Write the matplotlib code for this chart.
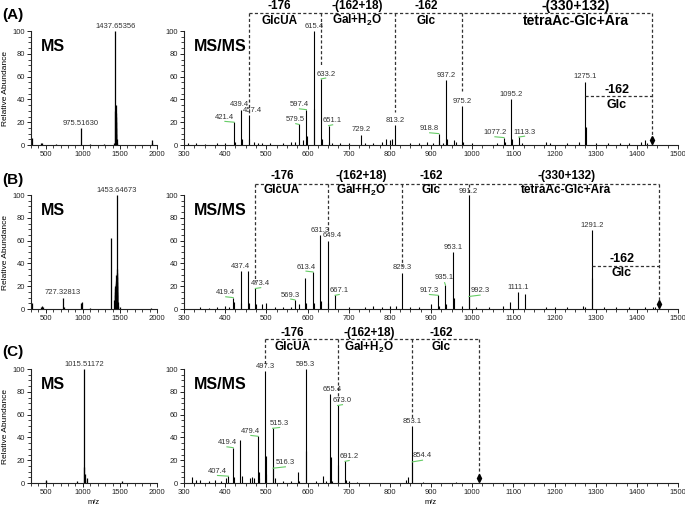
import matplotlib
matplotlib.use('Agg')
import matplotlib.pyplot as plt
from matplotlib.ticker import MultipleLocator

plt.rcParams['font.family'] = ['Liberation Sans', 'DejaVu Sans']
plt.rcParams['mathtext.fontset'] = 'custom'
plt.rcParams['mathtext.rm'] = 'Liberation Sans'
plt.rcParams['mathtext.bf'] = 'Liberation Sans:bold'

# ---------------- Daten ----------------
# (A) MS
msA_mz = [310, 440, 450, 640, 975.51630, 1100, 1280, 1420, 1437.65356, 1439, 1441, 1443, 1444, 1447,
          1448, 1451, 1456, 1462, 1930, 1936]
msA_int = [6, 2, 2, 1, 15, 1, 1, 2, 100, 30, 25, 28, 20, 35, 15, 10, 5, 2, 4, 2]
msA_lab = [1437.65356, 975.51630]

# (A) MS/MS
msmsA_mz = [310, 330, 350, 380, 400, 421.4, 423, 439.4, 441, 457.4, 459, 470, 480, 490, 510, 540, 560, 570,
            579.5, 590, 597.4, 599, 615.4, 617, 633.2, 635, 651.1, 653, 660, 680, 700, 729.2, 740, 760, 780,
            790, 800, 805, 813.2, 850, 870, 890, 905, 918.8, 920, 930, 937.2, 939, 955, 960, 975.2, 977,
            1000, 1060, 1077.2, 1080, 1095.2, 1097, 1113.3, 1120, 1180, 1190, 1230, 1260, 1275.1, 1276,
            1300, 1330, 1360, 1380, 1410, 1420, 1425]
msmsA_int = [2, 2, 1, 2, 2, 20, 3, 31, 5, 26, 5, 3, 2, 2, 2, 2, 3, 3,
             18, 4, 31, 8, 100, 32, 58, 5, 17, 3, 2, 2, 2, 9, 2, 2, 3,
             5, 4, 5, 17.5, 2, 1.5, 3, 2, 10, 4, 2, 57, 5, 4, 3, 34, 3,
             2, 2, 6.5, 3, 40, 5, 7, 2, 3, 2, 2, 3, 55.5, 16,
             2, 2, 2, 2, 3, 4, 2]
msmsA_lab = [421.4, 439.4, 457.4, 579.5, 597.4, 615.4, 633.2, 651.1, 729.2, 813.2,
             918.8, 937.2, 975.2, 1077.2, 1095.2, 1113.3, 1275.1]
msmsA_green = [421.4, 579.5, 597.4, 633.2, 651.1, 918.8, 1077.2, 1113.3]

# (B) MS
msB_mz = [310, 440, 450, 460, 727.32813, 750, 980, 985, 1100, 1385, 1420, 1430, 1435, 1437, 1440, 1442,
          1445, 1447, 1449, 1450, 1452, 1453.64673, 1455, 1457, 1458, 1460, 1462, 1464, 1466, 1470,
          1480, 1500, 1920]
msB_int = [5, 2, 3, 2, 10, 1.5, 5, 6, 1, 62, 8, 15, 18, 12, 20, 18,
           22, 21, 23, 25, 30, 100, 32, 28, 35, 20, 24, 15, 12, 6,
           3, 2, 1]
msB_lab = [1453.64673, 727.32813]

# (B) MS/MS
msmsB_mz = [340, 360, 380, 400, 410, 419.4, 421, 437.4, 439, 455, 457, 473.4, 475, 490, 500, 520, 540,
            560, 569.3, 580, 595, 597, 613.4, 615, 631.3, 633, 649.4, 651, 667.1, 700, 740, 760, 780,
            800, 815, 829.3, 850, 870, 900, 917.3, 919, 935.1, 937, 953.1, 955, 975, 991.2, 992.3, 1010,
            1040, 1075, 1093, 1111.1, 1128, 1180, 1200, 1230, 1270, 1275, 1291.2, 1292, 1320, 1350, 1380,
            1420, 1440, 1445, 1455]
msmsB_int = [2, 1, 2, 3, 2, 10, 6, 33, 5, 33, 5, 18, 4, 4, 5, 2, 2,
             2, 8, 4, 27, 5, 32.5, 5, 65, 7, 60, 5, 12, 2, 2, 3, 2,
             3, 3, 32, 2, 2, 4, 12, 3, 21, 4, 50, 10, 3, 100, 11, 2,
             2, 3, 6.5, 14.5, 13, 2, 2, 2, 3, 2, 69, 27, 2, 2, 2,
             2, 2, 2, 3]
msmsB_lab = [419.4, 437.4, 473.4, 569.3, 613.4, 631.3, 649.4, 667.1, 829.3,
             917.3, 935.1, 953.1, 991.2, 992.3, 1111.1, 1291.2]
msmsB_green = [419.4, 473.4, 569.3, 613.4, 667.1, 917.3, 935.1, 992.3]

# (C) MS
msC_mz = [500, 505, 920, 1015.51172, 1020, 1025, 1030, 1050, 1530]
msC_int = [3, 2, 1.5, 100, 14, 8, 3, 4, 2]
msC_lab = [1015.51172]

# (C) MS/MS
msmsC_mz = [320, 330, 340, 360, 375, 390, 401, 407.4, 419.4, 421, 437, 440, 460, 465, 470, 479.4, 481,
            483, 497.3, 499, 500, 515.3, 516.3, 520, 540, 560, 577, 580, 595.3, 597, 620, 638, 645,
            655.4, 657, 660, 673.0, 675, 691.2, 693, 700, 720, 840, 845, 853.1, 854.4, 880, 960]
msmsC_int = [5, 3, 3, 2, 3, 2, 4, 6, 31, 5, 37.5, 6, 4, 5, 4, 41, 10,
             4, 98, 24, 8, 48, 13, 4, 2, 2, 10, 2, 100, 28, 2, 6, 2,
             78, 23, 2, 68, 16, 19, 3, 2, 1, 3, 5, 50, 18.5, 1, 1]
msmsC_lab = [407.4, 419.4, 479.4, 497.3, 515.3, 516.3, 595.3, 655.4, 673.0, 691.2, 853.1, 854.4]
msmsC_green = [407.4, 419.4, 479.4, 515.3, 516.3, 673.0, 691.2, 854.4]

# Verlust-Klammern (Peaks an denen die gestrichelten Linien sitzen)
brA_mz = [457.4, 633.2, 813.2, 975.2, 1437.65356]
brB_mz = [473.4, 649.4, 829.3, 991.2, 1453.64673]
brC_mz = [497.3, 673.0, 853.1, 1015.51172]
br_top = ['-176', '-(162+18)', '-162', '-(330+132)']
br_bot = ['GlcUA', r'Gal+H$_\mathbf{2}$O', 'Glc', 'tetraAc-Glc+Ara']
innerA_mz = [1275.1, 1437.65356]
innerB_mz = [1291.2, 1453.64673]

# ---------------- Layout ----------------
W, H = 685, 509
fig = plt.figure(figsize=(W / 100, H / 100), dpi=100)


def rect(l, t, r, b):
    return [l / W, 1 - b / H, (r - l) / W, (b - t) / H]


def style_axes(ax, xlim, minor, ticks):
    ax.set_xlim(*xlim)
    ax.set_ylim(0, 100)
    for s in ['top', 'right']:
        ax.spines[s].set_visible(False)
    for s in ['left', 'bottom']:
        ax.spines[s].set_linewidth(0.8)
        ax.spines[s].set_color('#222222')
    ax.set_xticks(ticks)
    ax.xaxis.set_minor_locator(MultipleLocator(minor))
    ax.yaxis.set_major_locator(MultipleLocator(20))
    ax.yaxis.set_minor_locator(MultipleLocator(5))
    ax.tick_params(which='major', length=3, width=0.7, labelsize=5.5, pad=1.5, colors='#222222')
    ax.tick_params(which='minor', length=2, width=0.6, colors='#222222')


def draw_peaks(ax, mz, inten, lw=0.8):
    ax.vlines(mz, 0, inten, color='black', lw=lw)


def peak_label(ax, mz, inten, lab, fmt, dx=None, dy=None, green=()):
    dx = dx or {}
    dy = dy or {}
    for m in lab:
        h = inten[mz.index(m)]
        ox = dx.get(m, 0)
        oy = dy.get(m, 1.2)
        ax.text(m + ox, h + oy, fmt.format(m), ha='center', va='bottom', fontsize=5.5, color='#333333')
        if m in green:
            if ox != 0:
                ax.plot([m + ox, m], [h + oy * 0.6, h], color='#66cc66', lw=0.8, clip_on=False)
            else:
                ax.plot([m - 12, m + 8], [h + oy * 0.6, h + oy * 0.4], color='#66cc66', lw=0.8, clip_on=False)


def brackets(ax, xs, bottoms, y_line, lab_x, y_top, y_bot, sizes):
    ls = dict(color='#333333', lw=0.9, ls=(0, (2.5, 1.8)), clip_on=False)
    ax.plot([xs[0], xs[-1]], [y_line, y_line], **ls)
    for x, b in zip(xs, bottoms):
        ax.plot([x, x], [y_line, b], **ls)
    ax.plot([xs[-1]], [4], marker='d', color='black', ms=4, clip_on=False)
    for i, lx in enumerate(lab_x):
        ax.text(lx, y_top, br_top[i], ha='center', va='center', fontsize=sizes[i], fontweight='bold')
        ax.text(lx, y_bot, br_bot[i], ha='center', va='center', fontsize=sizes[i], fontweight='bold')


def inner(ax, xs, y_line, lx, y_top, y_bot):
    ls = dict(color='#333333', lw=0.9, ls=(0, (2.5, 1.8)), clip_on=False)
    ax.plot(xs, [y_line, y_line], **ls)
    ax.text(lx, y_top, '-162', ha='center', va='center', fontsize=9, fontweight='bold')
    ax.text(lx, y_bot, 'Glc', ha='center', va='center', fontsize=9, fontweight='bold')


rows = [
    ('(A)', 31, 145, msA_mz, msA_int, msA_lab, msmsA_mz, msmsA_int),
    ('(B)', 195, 309, msB_mz, msB_int, msB_lab, msmsB_mz, msmsB_int),
    ('(C)', 369, 483, msC_mz, msC_int, msC_lab, msmsC_mz, msmsC_int),
]
panel_y = [15, 180, 352]

ax_ms = []
ax_msms = []
for i, (name, t, b, mz1, in1, lab1, mz2, in2) in enumerate(rows):
    a1 = fig.add_axes(rect(31, t, 157, b))
    style_axes(a1, (300, 2000), 100, [500, 1000, 1500, 2000])
    draw_peaks(a1, mz1, in1, lw=0.9)
    peak_label(a1, mz1, in1, lab1, '{:.5f}', dy={m: 1.0 for m in lab1})
    a1.text(0.08, 0.86, 'MS', transform=a1.transAxes, fontsize=11.5, fontweight='bold', va='center')
    a1.set_ylabel('Relative Abundance', fontsize=6, labelpad=2)

    a2 = fig.add_axes(rect(184, t, 678, b))
    style_axes(a2, (300, 1500), 25, list(range(300, 1501, 100)))
    draw_peaks(a2, mz2, in2)
    a2.text(0.02, 0.86, 'MS/MS', transform=a2.transAxes, fontsize=11.5, fontweight='bold', va='center')
    fig.text(2 / W, 1 - panel_y[i] / H, name, fontsize=11, fontweight='bold', va='center')
    ax_ms.append(a1)
    ax_msms.append(a2)

# Beschriftungen der Fragmente
peak_label(ax_msms[0], msmsA_mz, msmsA_int, msmsA_lab, '{:.1f}',
           dx={421.4: -22, 439.4: -5, 457.4: 8, 579.5: -8, 597.4: -17, 633.2: 11, 651.1: 10,
               918.8: -22, 1077.2: -22, 1113.3: 14},
           green=msmsA_green)
peak_label(ax_msms[1], msmsB_mz, msmsB_int, msmsB_lab, '{:.1f}',
           dx={419.4: -18, 473.4: 13, 569.3: -10, 613.4: -17, 649.4: 10, 667.1: 10,
               917.3: -21, 935.1: -2, 992.3: 27},
           dy={935.1: 3.5, 992.3: 2, 991.2: 0.2},
           green=msmsB_green)
peak_label(ax_msms[2], msmsC_mz, msmsC_int, msmsC_lab, '{:.1f}',
           dx={407.4: -26, 419.4: -15, 479.4: -17, 515.3: 17, 516.3: 30, 655.4: 5,
               673.0: 12, 691.2: 10, 854.4: 25},
           dy={407.4: 1.0, 516.3: 2, 854.4: 2.5, 497.3: 1.5},
           green=msmsC_green)

# Klammern
brackets(ax_msms[0], brA_mz, [27, 70, 29, 47, 0], 116, [531, 721, 889, 1251], 122, 109,
         [8.5, 8.5, 8.5, 10])
inner(ax_msms[0], innerA_mz, 43, 1351, 48.5, 35)
brackets(ax_msms[1], brB_mz, [24, 67, 38, 100, 0], 109.6, [538, 731, 901, 1229], 116.5, 104,
         [8.5, 8.5, 8.5, 8.5])
inner(ax_msms[1], innerB_mz, 38, 1363, 44, 32)
brackets(ax_msms[2], brC_mz, [103, 71, 55, 0], 126, [563, 750, 925], 131.6, 119,
         [8.5, 8.5, 8.5])

ax_ms[2].set_xlabel('m/z', fontsize=5.5, labelpad=2)
ax_msms[2].set_xlabel('m/z', fontsize=5.5, labelpad=2)

plt.savefig('out.png', dpi=100)
plt.close()
